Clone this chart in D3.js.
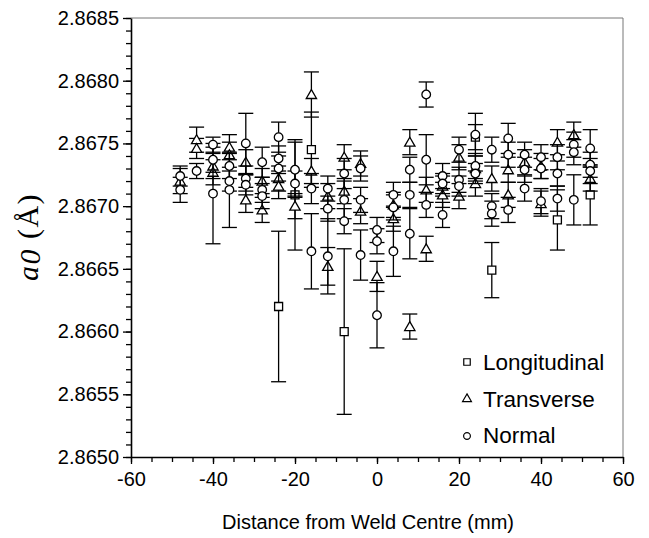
<!DOCTYPE html>
<html>
<head>
<meta charset="utf-8">
<script src="https://cdn.jsdelivr.net/npm/d3@7"></script>
<style>
	body { margin: 0; background: white; }
	svg { display: block; }
</style>
</head>
<body>
<script>
// lattice parameter a0 vs distance from weld centre, three directions

var longX = [-24, -20, -16, -8, 24, 28, 44, 52]
var longY = [2.86620, 2.86709, 2.86745, 2.86600, 2.86755, 2.86649, 2.86689, 2.86709]
var longErr = [0.00060, 0.00044, 0.00030, 0.00066, 0.00010, 0.00022, 0.00024, 0.00024]

var transX = [-48, -44, -44, -40, -40, -36, -36, -32, -32, -28, -28, -24, -24, -20,
	-16, -16, -12, -12, -8, -8, -4, -4, 0, 4, 4, 8, 8, 12, 12, 16, 16, 20, 20,
	24, 24, 28, 32, 32, 36, 40, 40, 44, 48, 52]
var transY = [2.86720, 2.86753, 2.86746, 2.86732, 2.86727, 2.86747, 2.86741, 2.86735, 2.86705, 2.86720, 2.86697, 2.86722, 2.86716, 2.86700,
	2.86789, 2.86728, 2.86708, 2.86652, 2.86739, 2.86712, 2.86734, 2.86696, 2.86644, 2.86701, 2.86690, 2.86751, 2.86604, 2.86713, 2.86666, 2.86709, 2.86716, 2.86739, 2.86708,
	2.86730, 2.86718, 2.86722, 2.86729, 2.86709, 2.86735, 2.86732, 2.86702, 2.86751, 2.86757, 2.86722]
var transErr = [0.00010, 0.00010, 0.00008, 0.00010, 0.00010, 0.00010, 0.00010, 0.00010, 0.00010, 0.00010, 0.00010, 0.00010, 0.00010, 0.00010,
	0.00018, 0.00010, 0.00010, 0.00015, 0.00010, 0.00010, 0.00010, 0.00010, 0.00012, 0.00010, 0.00010, 0.00010, 0.00010, 0.00010, 0.00010, 0.00010, 0.00008, 0.00010, 0.00010,
	0.00010, 0.00010, 0.00010, 0.00010, 0.00010, 0.00010, 0.00010, 0.00010, 0.00010, 0.00010, 0.00010]

var normX = [-48, -48, -44, -40, -40, -40, -36, -36, -36, -32, -32, -32, -28, -28, -28, -24, -24, -24,
	-20, -20, -16, -16, -12, -12, -12, -8, -8, -8, -4, -4, -4, 0, 0, 0, 4, 4, 4, 8, 8, 8,
	12, 12, 12, 16, 16, 16, 20, 20, 20, 24, 24, 24, 28, 28, 28, 32, 32, 32, 36, 36, 36,
	40, 40, 40, 44, 44, 44, 48, 48, 48, 52, 52, 52]
var normY = [2.86724, 2.86713, 2.86728, 2.86749, 2.86737, 2.86710, 2.86732, 2.86720, 2.86713, 2.86750, 2.86722, 2.86717, 2.86735, 2.86713, 2.86708, 2.86755, 2.86738, 2.86730,
	2.86729, 2.86718, 2.86714, 2.86664, 2.86714, 2.86698, 2.86660, 2.86726, 2.86705, 2.86688, 2.86730, 2.86705, 2.86661, 2.86681, 2.86672, 2.86613, 2.86709, 2.86699, 2.86664, 2.86729, 2.86709, 2.86678,
	2.86789, 2.86737, 2.86701, 2.86724, 2.86718, 2.86693, 2.86745, 2.86721, 2.86716, 2.86757, 2.86732, 2.86726, 2.86745, 2.86700, 2.86694, 2.86754, 2.86741, 2.86697, 2.86741, 2.86729, 2.86714,
	2.86739, 2.86730, 2.86704, 2.86739, 2.86726, 2.86706, 2.86749, 2.86743, 2.86705, 2.86746, 2.86733, 2.86728]
var normErr = [0.00008, 0.00010, 0.00006, 0.00006, 0.00010, 0.00040, 0.00010, 0.00008, 0.00030, 0.00024, 0.00010, 0.00008, 0.00012, 0.00010, 0.00010, 0.00012, 0.00010, 0.00010,
	0.00022, 0.00010, 0.00012, 0.00030, 0.00010, 0.00010, 0.00030, 0.00012, 0.00015, 0.00010, 0.00010, 0.00010, 0.00020, 0.00010, 0.00010, 0.00026, 0.00010, 0.00010, 0.00020, 0.00010, 0.00010, 0.00020,
	0.00010, 0.00020, 0.00010, 0.00010, 0.00008, 0.00010, 0.00010, 0.00010, 0.00008, 0.00017, 0.00010, 0.00008, 0.00010, 0.00010, 0.00010, 0.00012, 0.00010, 0.00010, 0.00010, 0.00010, 0.00010,
	0.00010, 0.00008, 0.00010, 0.00010, 0.00010, 0.00010, 0.00010, 0.00010, 0.00020, 0.00015, 0.00010, 0.00010]

var xTicks = [-60, -40, -20, 0, 20, 40, 60]
var yTicks = [2.8650, 2.8655, 2.8660, 2.8665, 2.8670, 2.8675, 2.8680, 2.8685]
var legendLabels = ['Longitudinal', 'Transverse', 'Normal']

var width = 649,
	height = 538
var plotL = 131, plotR = 623, plotT = 18, plotB = 457
var font = "'Liberation Sans', Arial, sans-serif"

var svg = d3.select('body').append('svg')
	.attr('width', width)
	.attr('height', height)

var x = d3.scaleLinear().domain([-60, 60]).range([plotL, plotR])
var y = d3.scaleLinear().domain([2.8650, 2.8685]).range([plotB, plotT])

// frame (top and right)
svg.append('path')
	.attr('d', 'M' + plotL + ',' + plotT + 'H' + plotR + 'V' + plotB)
	.attr('fill', 'none')
	.attr('stroke', '#777')
	.attr('stroke-width', 1)

// minor ticks
svg.append('g')
	.attr('transform', 'translate(0,' + plotB + ')')
	.call(d3.axisBottom(x).tickValues(d3.range(-60, 61, 5)).tickSize(5).tickSizeOuter(0).tickFormat(''))
	.call(g => g.select('.domain').remove())
	.selectAll('line').attr('stroke-width', 1.3)
svg.append('g')
	.attr('transform', 'translate(' + plotL + ',0)')
	.call(d3.axisLeft(y).tickValues(d3.range(0, 36).map(i => 2.8650 + i * 0.0001)).tickSize(5).tickSizeOuter(0).tickFormat(''))
	.call(g => g.select('.domain').remove())
	.selectAll('line').attr('stroke-width', 1.3)

// major axes
var xAxis = svg.append('g')
	.attr('transform', 'translate(0,' + plotB + ')')
	.call(d3.axisBottom(x).tickValues(xTicks).tickSize(7).tickSizeOuter(0).tickPadding(8).tickFormat(d => String(d)))
var yAxis = svg.append('g')
	.attr('transform', 'translate(' + plotL + ',0)')
	.call(d3.axisLeft(y).tickValues(yTicks).tickSize(8).tickSizeOuter(0).tickPadding(4).tickFormat(d => d.toFixed(4)))

;[xAxis, yAxis].forEach(function (g) {
	g.select('.domain').attr('stroke-width', 1.6)
	g.selectAll('line').attr('stroke-width', 1.3)
	g.selectAll('text').style('font-family', font).style('font-size', '20px').attr('fill', '#000')
})

svg.append('text')
	.attr('x', (plotL + plotR) / 2 - 9)
	.attr('y', 529)
	.attr('text-anchor', 'middle')
	.style('font-family', font)
	.style('font-size', '20px')
	.text('Distance from Weld Centre (mm)')

var ylab = svg.append('text')
	.attr('transform', 'translate(38,' + 237 + ') rotate(-90)')
	.attr('text-anchor', 'middle')
	.style('font-family', "'Liberation Serif', 'Times New Roman', serif")
	.style('font-size', '30px')
	.style('letter-spacing', '1.5px')
ylab.append('tspan').style('font-style', 'italic').text('a')
ylab.append('tspan').style('font-style', 'italic').attr('dy', 2).text('0')
ylab.append('tspan').attr('dy', -2).text(' (Å)')

// markers
var sym = {
	square: d3.symbol().type(d3.symbolSquare).size(64),
	triangle: d3.symbol().type(d3.symbolTriangle).size(46),
	circle: d3.symbol().type(d3.symbolCircle).size(58)
}

function series(xs, ys, es, shape) {
	var data = xs.map((d, i) => ({ x: d, y: ys[i], e: es[i] }))
	var g = svg.append('g')
	var bars = g.selectAll('g.bar')
		.data(data)
		.enter()
		.append('g')
			.attr('stroke', '#000')
			.attr('stroke-width', 1.3)
	bars.append('line')
		.attr('x1', d => x(d.x)).attr('x2', d => x(d.x))
		.attr('y1', d => y(d.y - d.e)).attr('y2', d => y(d.y + d.e))
	bars.append('line')
		.attr('x1', d => x(d.x) - 7.5).attr('x2', d => x(d.x) + 7.5)
		.attr('y1', d => y(d.y + d.e)).attr('y2', d => y(d.y + d.e))
	bars.append('line')
		.attr('x1', d => x(d.x) - 7.5).attr('x2', d => x(d.x) + 7.5)
		.attr('y1', d => y(d.y - d.e)).attr('y2', d => y(d.y - d.e))
	g.selectAll('path')
		.data(data)
		.enter()
		.append('path')
			.attr('d', sym[shape])
			.attr('transform', d => 'translate(' + x(d.x) + ',' + (y(d.y) + (shape == 'triangle' ? 1 : 0)) + ')')
			.attr('fill', 'white')
			.attr('stroke', '#000')
			.attr('stroke-width', 1.3)
}

series(longX, longY, longErr, 'square')
series(transX, transY, transErr, 'triangle')
series(normX, normY, normErr, 'circle')

// legend
var legendShapes = ['square', 'triangle', 'circle']
var legendSym = {
	square: d3.symbol().type(d3.symbolSquare).size(42),
	triangle: d3.symbol().type(d3.symbolTriangle).size(34),
	circle: d3.symbol().type(d3.symbolCircle).size(36)
}
var legend = svg.append('g')
legend.selectAll('path')
	.data(legendShapes)
	.enter()
	.append('path')
		.attr('d', d => legendSym[d]())
		.attr('transform', (d, i) => 'translate(467,' + (362 + i * 37) + ')')
		.attr('fill', 'white')
		.attr('stroke', '#000')
		.attr('stroke-width', 1.2)
legend.selectAll('text')
	.data(legendLabels)
	.enter()
	.append('text')
		.attr('x', 483)
		.attr('y', (d, i) => 370 + i * 36.5)
		.style('font-family', font)
		.style('font-size', '22.5px')
		.text(d => d)
</script>
</body>
</html>
